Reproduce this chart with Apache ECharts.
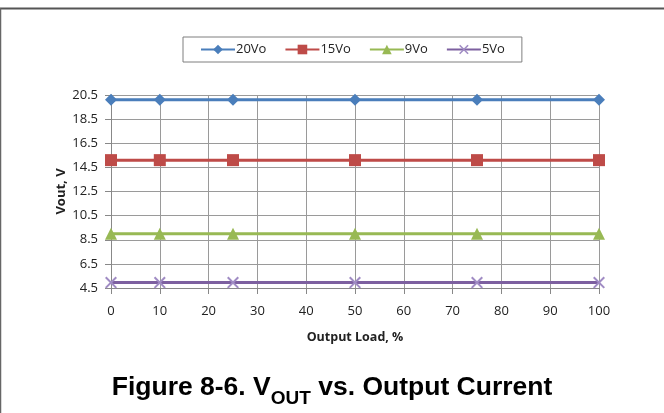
<!DOCTYPE html>
<html><head><meta charset="utf-8">
<script src="https://cdn.jsdelivr.net/npm/echarts@6/dist/echarts.min.js"></script>
<style>html,body{margin:0;padding:0;background:#fff}#c{width:664px;height:413px}</style>
</head><body><div id="c"></div>
<script>
var loads = [0, 10, 25, 50, 75, 100];
var v20 = [20.1, 20.1, 20.1, 20.1, 20.1, 20.1];
var v15 = [15.1, 15.1, 15.1, 15.1, 15.1, 15.1];
var v9 = [9.0, 9.0, 9.0, 9.0, 9.0, 9.0];
var v5 = [4.95, 4.95, 4.95, 4.95, 4.95, 4.95];
var seriesNames = ['20Vo', '15Vo', '9Vo', '5Vo'];
var yTicks = [4.5, 6.5, 8.5, 10.5, 12.5, 14.5, 16.5, 18.5, 20.5];
var xTicks = [0, 10, 20, 30, 40, 50, 60, 70, 80, 90, 100];

function pairs(ys){ return loads.map(function(x,i){ return [x, ys[i]]; }); }
var xPath = 'path://M0,1.2L1.2,0L10,8.8L8.8,10ZM8.8,0L10,1.2L1.2,10L0,8.8Z';
var chart = echarts.init(document.getElementById('c'));
var font = 'Open Sans';
function mk(name, data, color, symbol, size, symColor){
  return {name:name, type:'line', data:pairs(data), symbol:symbol, symbolSize:size,
    showSymbol:true, lineStyle:{color:color, width:3}, itemStyle:{color:symColor||color},
    animation:false};
}
chart.setOption({
  animation:false,
  textStyle:{fontFamily:font},
  legend:{top:37, left:183, itemWidth:34, itemHeight:12, itemGap:18,
    padding:[6,17,6,17], borderColor:'#7f7f7f', borderWidth:1,
    textStyle:{fontFamily:font, fontSize:13, color:'#222', padding:[0,0,0,-4]},
    data:seriesNames},
  grid:{left:111, right:65, top:95, bottom:125},
  xAxis:{type:'value', min:xTicks[0], max:xTicks[xTicks.length-1], interval:10,
    name:'Output Load, %', nameLocation:'middle', nameGap:43,
    nameTextStyle:{fontFamily:font, fontWeight:'bold', fontSize:12.5, color:'#222'},
    axisLine:{show:true, onZero:false, lineStyle:{color:'#888', width:1}},
    axisTick:{show:true, length:6, lineStyle:{color:'#888'}},
    axisLabel:{fontFamily:font, fontSize:13, color:'#222', margin:17},
    splitLine:{show:true, lineStyle:{color:'#9a9a9a', width:1}}},
  yAxis:{type:'value', min:yTicks[0], max:yTicks[yTicks.length-1], interval:2,
    name:'Vout, V', nameLocation:'middle', nameGap:43, nameRotate:90, nameMoveOverlap:false,
    nameTextStyle:{fontFamily:font, fontWeight:'bold', fontSize:13, color:'#222'},
    axisLine:{show:true, onZero:false, lineStyle:{color:'#888', width:1}},
    axisTick:{show:true, length:6, lineStyle:{color:'#888'}},
    axisLabel:{fontFamily:font, fontSize:13, color:'#222', margin:13,
      formatter:function(v){ return v.toFixed(1); }},
    splitLine:{show:true, lineStyle:{color:'#9a9a9a', width:1}}},
  series:[
    mk(seriesNames[0], v20, '#4a7ebb', 'diamond', 12),
    mk(seriesNames[1], v15, '#be4b48', 'rect', 12),
    mk(seriesNames[2], v9, '#98b954', 'triangle', 12),
    mk(seriesNames[3], v5, '#7d60a0', xPath, 12, '#a08cc4')
  ],
  graphic:[
    {type:'line', shape:{x1:0, y1:8.5, x2:664, y2:8.5}, style:{stroke:'#555', lineWidth:2}},
    {type:'line', shape:{x1:0.5, y1:8, x2:0.5, y2:413}, style:{stroke:'#666', lineWidth:1.5}},
    {type:'text', left:'center', top:374, style:{
      text:'{a|Figure 8-6. V}{s|OUT}{a| vs. Output Current}',
      rich:{a:{fontFamily:'Liberation Sans', fontWeight:'bold', fontSize:26.5, fill:'#000', verticalAlign:'bottom', lineHeight:30},
            s:{fontFamily:'Liberation Sans', fontWeight:'bold', fontSize:19, fill:'#000', verticalAlign:'bottom', lineHeight:30, padding:[0,0,-7,0]}}}}
  ]
});
</script></body></html>
